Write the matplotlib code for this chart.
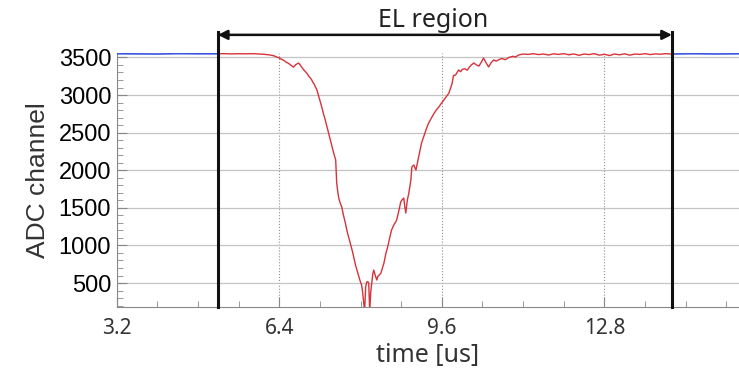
import matplotlib
matplotlib.use("Agg")
import matplotlib.pyplot as plt
from matplotlib.ticker import MultipleLocator

# waveform inside the EL window (red): (time [us], ADC channel)
red_trace = [
    (5.19, 3548), (5.3, 3550), (5.45, 3547), (5.6, 3549), (5.75, 3548), (5.9, 3550), (6.0, 3545),
    (6.09, 3542), (6.19, 3535), (6.25, 3528), (6.30, 3520), (6.35, 3505), (6.39, 3495), (6.43, 3480),
    (6.46, 3472), (6.50, 3455), (6.53, 3440), (6.57, 3425), (6.60, 3412), (6.64, 3390), (6.68, 3370),
    (6.70, 3385), (6.72, 3402), (6.75, 3415), (6.78, 3425), (6.81, 3400), (6.85, 3362), (6.88, 3335),
    (6.92, 3306), (6.95, 3282), (6.98, 3250), (7.01, 3228), (7.04, 3198), (7.06, 3170), (7.09, 3142),
    (7.11, 3110), (7.14, 3068), (7.17, 3000), (7.19, 2950), (7.22, 2880), (7.24, 2830), (7.27, 2750),
    (7.30, 2680), (7.33, 2600), (7.37, 2497), (7.40, 2410), (7.44, 2310), (7.47, 2230), (7.51, 2136),
    (7.53, 1830), (7.55, 1720), (7.57, 1630), (7.60, 1560), (7.63, 1511), (7.66, 1410), (7.70, 1300),
    (7.73, 1200), (7.77, 1099), (7.80, 1020), (7.84, 920), (7.87, 830), (7.90, 739), (7.93, 670),
    (7.96, 600), (7.99, 530), (8.02, 473), (8.04, 380), (8.06, 250), (8.08, 120), (8.10, 447),
    (8.12, 510), (8.14, 520), (8.16, 500), (8.18, 120), (8.20, 380), (8.22, 500), (8.24, 620),
    (8.26, 673), (8.29, 600), (8.32, 540), (8.34, 590), (8.36, 600), (8.40, 633), (8.43, 700),
    (8.46, 766), (8.50, 900), (8.53, 970), (8.55, 1032), (8.58, 1120), (8.61, 1205), (8.64, 1250),
    (8.66, 1280), (8.69, 1310), (8.71, 1338), (8.75, 1450), (8.79, 1577), (8.82, 1610), (8.85, 1630),
    (8.87, 1520), (8.89, 1431), (8.92, 1600), (8.95, 1697), (8.97, 1780), (8.99, 1870), (9.01, 2043),
    (9.03, 2060), (9.05, 2070), (9.07, 2030), (9.09, 2003), (9.12, 2100), (9.15, 2200), (9.18, 2290),
    (9.20, 2362), (9.24, 2440), (9.27, 2500), (9.30, 2560), (9.34, 2628), (9.39, 2690), (9.44, 2750),
    (9.49, 2800), (9.54, 2841), (9.59, 2890), (9.64, 2934), (9.69, 2980), (9.74, 3027), (9.77, 3090),
    (9.80, 3150), (9.83, 3260), (9.87, 3266), (9.90, 3300), (9.93, 3333), (9.97, 3310), (10.00, 3340),
    (10.05, 3350), (10.10, 3330), (10.13, 3360), (10.18, 3400), (10.23, 3426), (10.28, 3400),
    (10.33, 3385), (10.38, 3440), (10.42, 3492), (10.47, 3430), (10.52, 3373), (10.57, 3430),
    (10.62, 3466), (10.67, 3450), (10.72, 3470), (10.78, 3485), (10.85, 3470), (10.92, 3500),
    (11.0, 3515), (11.05, 3505), (11.11, 3532), (11.2, 3545), (11.3, 3540), (11.4, 3550), (11.5, 3538),
    (11.6, 3545), (11.7, 3532), (11.8, 3548), (11.9, 3540), (12.0, 3550), (12.1, 3535), (12.2, 3546),
    (12.3, 3528), (12.4, 3545), (12.5, 3538), (12.6, 3550), (12.7, 3530), (12.8, 3542), (12.9, 3525),
    (13.0, 3545), (13.1, 3535), (13.2, 3548), (13.3, 3530), (13.4, 3545), (13.5, 3540), (13.6, 3550),
    (13.7, 3538), (13.8, 3547), (13.9, 3542), (14.0, 3550), (14.13, 3545),
]
red_t, red_adc = zip(*red_trace)

# baseline outside the window (blue)
blue_left_t = [3.2, 3.6, 4.0, 4.4, 4.8, 5.19]
blue_left_adc = [3549, 3547, 3545, 3550, 3548, 3548]
blue_right_t = [14.13, 14.5, 15.0, 15.45]
blue_right_adc = [3545, 3549, 3546, 3548]

el_start = 5.19
el_end = 14.13

xticks = [3.2, 6.4, 9.6, 12.8]
yticks = [500, 1000, 1500, 2000, 2500, 3000, 3500]

fig = plt.figure(figsize=(7.39, 3.70), dpi=100)
ax = fig.add_axes([0.158, 0.170, 0.842, 0.687])

ax.plot(blue_left_t, blue_left_adc, color="#3a55e0", lw=1.2, zorder=3)
ax.plot(blue_right_t, blue_right_adc, color="#3a55e0", lw=1.2, zorder=3)
ax.plot(red_t, red_adc, color="#d8323a", lw=1.0, zorder=3)

ax.set_xlim(3.2, 15.45)
ax.set_ylim(180, 3560)
ax.set_xticks(xticks)
ax.set_yticks(yticks)
ax.xaxis.set_minor_locator(MultipleLocator(0.8))
ax.yaxis.set_minor_locator(MultipleLocator(100))
ax.tick_params(which="both", direction="in", color="#888888", top=False, right=False)
ax.tick_params(which="major", length=7)
ax.tick_params(which="minor", length=4)
ax.tick_params(axis="y", labelsize=17, pad=4)
ax.tick_params(axis="x", labelsize=15, pad=8)
for lab in ax.get_yticklabels():
    lab.set_family("Liberation Sans")
for lab in ax.get_xticklabels():
    lab.set_family("Noto Sans")
    lab.set_color("#333333")

ax.grid(axis="y", color="#c4c4c4", lw=0.9)
ax.grid(axis="x", color="#909090", lw=0.8, ls=":")
for s in ["top", "right"]:
    ax.spines[s].set_visible(False)
for s in ["left", "bottom"]:
    ax.spines[s].set_color("#888888")

ax.set_ylabel("ADC channel", fontsize=19, family="Liberation Sans", color="#333333", labelpad=6)
ax.set_xlabel("time [us]", fontsize=18, family="Noto Sans", color="#333333", labelpad=3)

# EL region markers
tr = ax.get_xaxis_transform()
for xv in [el_start, el_end]:
    ax.plot([xv, xv], [0, 1.083], transform=tr, color="#111111", lw=2.2, clip_on=False, zorder=5)
ax.annotate("", xy=(el_start, 1.071), xytext=(el_end, 1.071), xycoords=tr, textcoords=tr,
            arrowprops=dict(arrowstyle="<|-|>", color="#111111", lw=1.8, mutation_scale=14,
                            shrinkA=0, shrinkB=0))
ax.text(9.42, 1.102, "EL region", transform=tr, ha="center", va="baseline",
        fontsize=18, family="Noto Sans", color="#222222")

fig.savefig("out.png", dpi=100)
